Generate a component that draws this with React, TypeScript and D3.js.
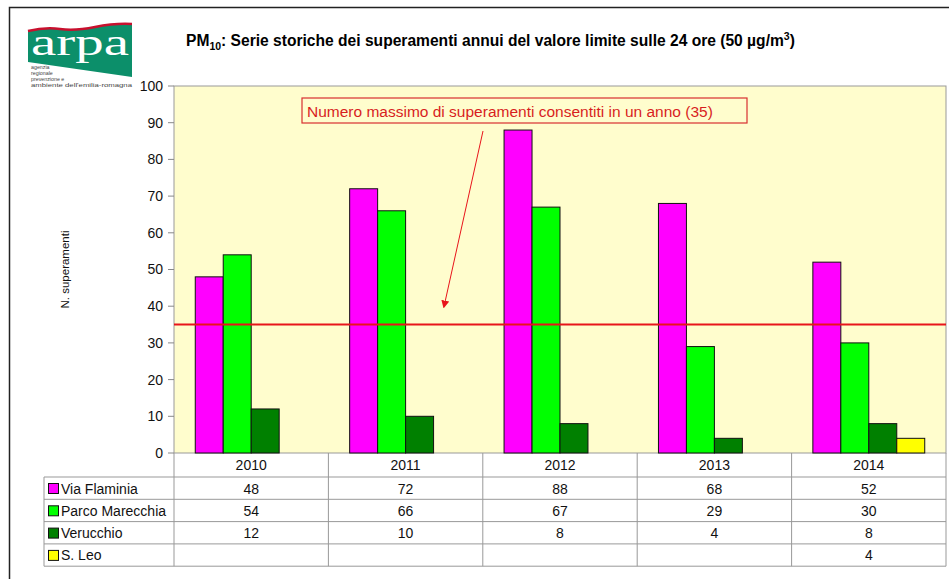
import { useMemo } from 'react';
import * as d3 from 'd3';

const years = ['2010', '2011', '2012', '2013', '2014'];
const stations = ['Via Flaminia', 'Parco Marecchia', 'Verucchio', 'S. Leo'];
const viaFlaminia = [48, 72, 88, 68, 52];
const parcoMarecchia = [54, 66, 67, 29, 30];
const verucchio = [12, 10, 8, 4, 8];
const sLeo: (number | null)[] = [null, null, null, null, 4];
const limit = 35;
const yTickValues = [0, 10, 20, 30, 40, 50, 60, 70, 80, 90, 100];

const colors = ['#FF00FF', '#00FF00', '#008000', '#FFFF00'];
const font = 'Liberation Sans, Arial, sans-serif';

const App = () => {
  const series = [viaFlaminia, parcoMarecchia, verucchio, sLeo];

  // plot frame
  const left = 174;
  const right = 946;
  const top = 86;
  const bottom = 453;
  const rowH = 22.3;
  const tableLeft = 44;

  const x = useMemo(() => d3.scaleBand().domain(years).range([left, right]).paddingInner(0).paddingOuter(0), []);
  const inner = useMemo(
    () => d3.scaleBand().domain(stations).range([0, x.bandwidth()]).paddingOuter(0.76).paddingInner(0),
    [x]
  );
  const y = useMemo(() => d3.scaleLinear().domain([0, 100]).range([bottom, top]), []);

  const headerBottom = bottom + 24;
  const rowY = (i: number) => headerBottom + i * rowH;
  const tableBottom = rowY(stations.length);

  return (
    <svg width="949" height="579" style={{ display: 'block', position: 'absolute', left: 0, top: 0 }} fontFamily={font}>
      <rect x="0" y="0" width="949" height="579" fill="#fff" />
      {/* outer frame */}
      <path d="M9.5,579 V7.5 H949" fill="none" stroke="#222" strokeWidth="1.5" />

      {/* logo */}
      <g>
        <path d="M28,31 Q45,27 60,29 T95,27 T132,24 V77 L28,62 Z" fill="#0C8F6A" />
        <path d="M28,31 Q45,27 60,29 T95,27 T132,24" fill="none" stroke="#C8102E" strokeWidth="2.5" />
        <text x="31" y="55" fill="#fff" fontFamily="Liberation Serif, Times New Roman, serif" fontSize="38" textLength="98" lengthAdjust="spacingAndGlyphs">arpa</text>
        <g fill="#444" fontSize="5.3">
          <text x="31" y="68.5">agenzia</text>
          <text x="31" y="74.5">regionale</text>
          <text x="31" y="80.5">prevenzione e</text>
          <text x="31" y="86.5" textLength="101" lengthAdjust="spacingAndGlyphs">ambiente dell'emilia-romagna</text>
        </g>
      </g>

      {/* title */}
      <text x="186" y="46" fontSize="15.6" fontWeight="bold" fill="#000">
        PM<tspan fontSize="10.5" dy="4">10</tspan>
        <tspan dy="-4">: Serie storiche dei superamenti annui del valore limite sulle 24 ore (50 µg/m</tspan>
        <tspan fontSize="10.5" dy="-6">3</tspan>
        <tspan dy="6">)</tspan>
      </text>

      {/* plot area */}
      <rect x={left} y={top} width={right - left} height={bottom - top} fill="#FFFDCD" stroke="#999" />

      {/* y axis */}
      {yTickValues.map((v) => (
        <g key={v} transform={`translate(${left}, ${y(v)})`}>
          <line x1="-6" x2="0" stroke="#888" />
          <text x="-11" dy="0.35em" textAnchor="end" fontSize="14" fill="#111">
            {v}
          </text>
        </g>
      ))}
      <text transform={`translate(69, ${(top + bottom) / 2}) rotate(-90)`} textAnchor="middle" fontSize="11.5" fill="#111">
        N. superamenti
      </text>

      {/* bars */}
      {years.map((yr, i) => (
        <g key={yr} transform={`translate(${x(yr)}, 0)`}>
          {series.map((s, j) => {
            const v = s[i];
            if (v == null) return null;
            return (
              <rect
                key={j}
                x={inner(stations[j])}
                y={y(v)}
                width={inner.bandwidth()}
                height={y(0) - y(v)}
                fill={colors[j]}
                stroke="#111"
                strokeWidth="1"
              />
            );
          })}
        </g>
      ))}

      {/* limit line */}
      <line x1={left} x2={right} y1={y(limit)} y2={y(limit)} stroke="#E8141B" strokeWidth="2" />

      {/* annotation */}
      <rect x="302" y="98" width="445" height="25" fill="#FFFDCD" stroke="#D83030" strokeWidth="1.2" />
      <text x="307" y="116.5" fontSize="15.5" fill="#D81E1E">
        Numero massimo di superamenti consentiti in un anno ({limit})
      </text>
      <defs>
        <marker id="arr" markerWidth="8" markerHeight="8" refX="6" refY="4" orient="auto" markerUnits="userSpaceOnUse">
          <path d="M0,0 L8,4 L0,8 Z" fill="#E8141B" />
        </marker>
      </defs>
      <line x1="483" y1="131" x2={444} y2={y(limit) - 18} stroke="#E8141B" strokeWidth="1" markerEnd="url(#arr)" />

      {/* data table */}
      <g stroke="#999" strokeWidth="1" fill="none">
        {years.map((yr) => (
          <line key={yr} x1={(x(yr) ?? 0) + x.bandwidth()} x2={(x(yr) ?? 0) + x.bandwidth()} y1={bottom} y2={tableBottom} />
        ))}
        <line x1={left} x2={left} y1={bottom} y2={tableBottom} />
        <line x1={tableLeft} x2={tableLeft} y1={headerBottom} y2={tableBottom} />
        {stations.map((_, i) => (
          <line key={i} x1={tableLeft} x2={right} y1={rowY(i)} y2={rowY(i)} />
        ))}
        <line x1={tableLeft} x2={right} y1={tableBottom} y2={tableBottom} />
      </g>
      {years.map((yr) => (
        <text key={yr} x={(x(yr) ?? 0) + x.bandwidth() / 2} y={bottom + 17} textAnchor="middle" fontSize="14" fill="#111">
          {yr}
        </text>
      ))}
      {stations.map((st, i) => (
        <g key={st}>
          <rect x={tableLeft + 4.5} y={rowY(i) + 6.5} width="10" height="10" fill={colors[i]} stroke="#111" />
          <text x={tableLeft + 17} y={rowY(i) + 16.5} fontSize="14" fill="#111">
            {st}
          </text>
          {years.map((yr, k) => {
            const v = series[i][k];
            return v == null ? null : (
              <text key={yr} x={(x(yr) ?? 0) + x.bandwidth() / 2} y={rowY(i) + 16.5} textAnchor="middle" fontSize="14" fill="#111">
                {v}
              </text>
            );
          })}
        </g>
      ))}
    </svg>
  );
};

export default App;
